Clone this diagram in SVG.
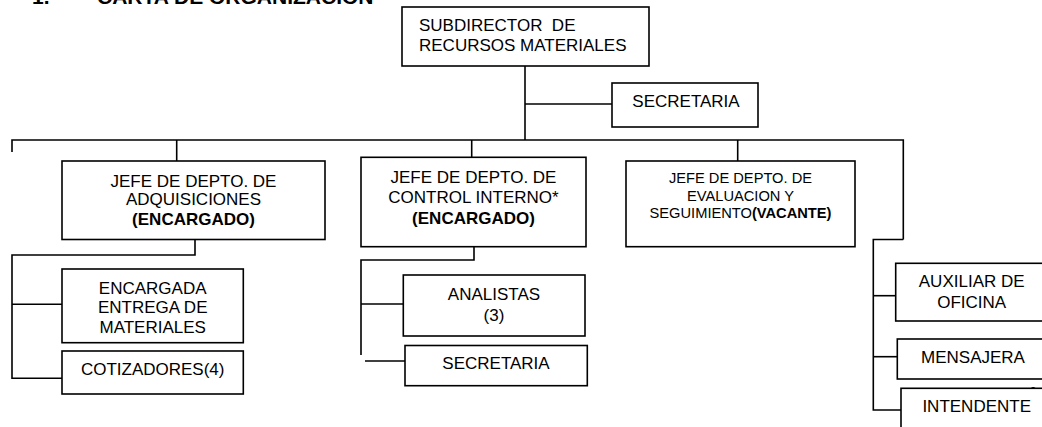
<svg xmlns="http://www.w3.org/2000/svg" width="1042" height="427" viewBox="0 0 1042 427">
<style>
.box{fill:#fff;stroke:#000;stroke-width:1.6}
.ln{fill:none;stroke:#000;stroke-width:1.6}
.t{font-family:"Liberation Sans",Arial,sans-serif;font-size:17px;text-anchor:middle;fill:#000}
.s{font-size:14.67px}
.l{text-anchor:start}
.b{font-weight:bold}
</style>
<rect width="1042" height="427" fill="#fff"/>
<text class="t l b" x="32" y="4.2" style="font-size:21px">1.<tspan x="97">CARTA DE ORGANIZACION</tspan></text>
<text class="t" x="1033" y="395.5" style="font-size:12px">2</text>
<g id="connectors">
<path class="ln" d="M525 66V140"/>
<path class="ln" d="M525 104H612"/>
<path class="ln" d="M12 152V140H903.3V239.5"/>
<path class="ln" d="M176.7 140V161"/>
<path class="ln" d="M471.7 140V157"/>
<path class="ln" d="M737.7 140V161"/>
<path class="ln" d="M195 239V255H12V378.3H62"/>
<path class="ln" d="M12 304.3H62"/>
<path class="ln" d="M474 247V260H361V355"/>
<path class="ln" d="M361 304H403"/>
<path class="ln" d="M365 361H407"/>
<path class="ln" d="M903.3 239.5H873.3V410H901"/>
<path class="ln" d="M873.3 295.7H896"/>
<path class="ln" d="M873.3 356.7H897"/>
</g>
<g id="subdirector">
<rect class="box" x="402" y="7" width="247" height="59"/>
<text class="t l" x="419" y="30.5" xml:space="preserve">SUBDIRECTOR  DE</text>
<text class="t l" x="419" y="51">RECURSOS MATERIALES</text>
</g>
<g id="secretaria1">
<rect class="box" x="612" y="83" width="146" height="44"/>
<text class="t" x="686" y="106.7">SECRETARIA</text>
</g>
<g id="adquisiciones">
<rect class="box" x="62" y="161" width="263" height="78.5"/>
<text class="t" x="193.5" y="186.5">JEFE DE DEPTO. DE</text>
<text class="t" x="193.5" y="205">ADQUISICIONES</text>
<text class="t b" x="193.5" y="224.5">(ENCARGADO)</text>
</g>
<g id="control">
<rect class="box" x="361" y="157.3" width="225" height="89.4"/>
<text class="t" x="473.5" y="182.7">JEFE DE DEPTO. DE</text>
<text class="t" x="473.5" y="203.3">CONTROL INTERNO*</text>
<text class="t b" x="473.5" y="224">(ENCARGADO)</text>
</g>
<g id="evaluacion">
<rect class="box" x="626" y="161" width="229" height="85.7"/>
<text class="t s" x="740.5" y="183.3">JEFE DE DEPTO. DE</text>
<text class="t s" x="740.5" y="200.7">EVALUACION Y</text>
<text class="t s" x="740.5" y="217.7">SEGUIMIENTO<tspan class="b">(VACANTE)</tspan></text>
</g>
<g id="encargada">
<rect class="box" x="62" y="269" width="181.3" height="73.7"/>
<text class="t" x="152.7" y="294">ENCARGADA</text>
<text class="t" x="152.7" y="313.3">ENTREGA DE</text>
<text class="t" x="152.7" y="332.7">MATERIALES</text>
</g>
<g id="cotizadores">
<rect class="box" x="62" y="351" width="181.3" height="43"/>
<text class="t" x="152.7" y="375">COTIZADORES(4)</text>
</g>
<g id="analistas">
<rect class="box" x="403.3" y="275" width="181.7" height="61"/>
<text class="t" x="494" y="300">ANALISTAS</text>
<text class="t" x="494" y="320.7">(3)</text>
</g>
<g id="secretaria2">
<rect class="box" x="405" y="345.5" width="182.3" height="40.2"/>
<text class="t" x="496" y="369.3">SECRETARIA</text>
</g>
<g id="auxiliar">
<rect class="box" x="895.7" y="263.3" width="160" height="57.7"/>
<text class="t" x="971.7" y="286.7">AUXILIAR DE</text>
<text class="t" x="971.7" y="307.7">OFICINA</text>
</g>
<g id="mensajera">
<rect class="box" x="897.3" y="339" width="160" height="40"/>
<text class="t" x="973" y="363">MENSAJERA</text>
</g>
<g id="intendente">
<rect class="box" x="901" y="388.3" width="160" height="50"/>
<text class="t" x="976.7" y="411.7">INTENDENTE</text>
</g>
</svg>
